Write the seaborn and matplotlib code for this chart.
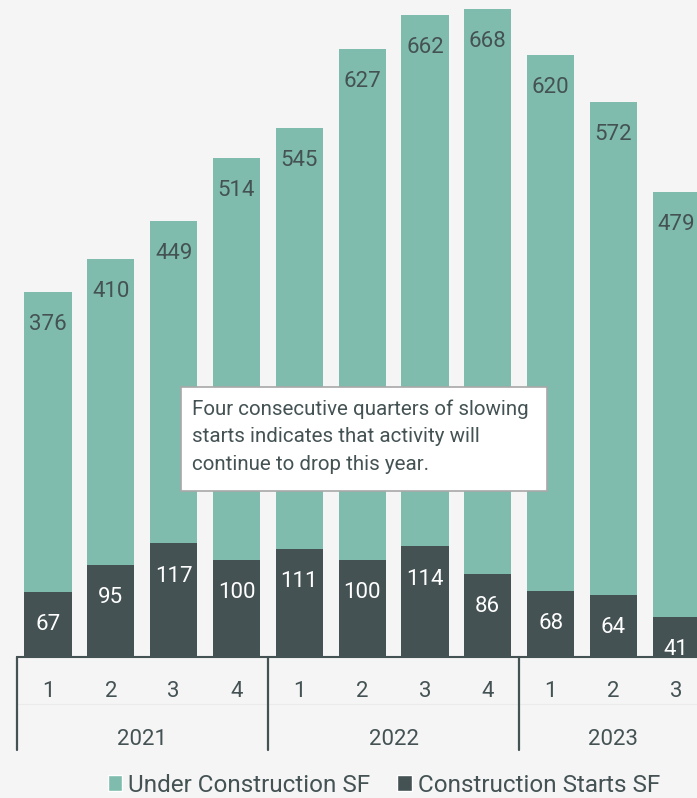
import numpy as np
import pandas as pd
import matplotlib
matplotlib.use("Agg")
import matplotlib.pyplot as plt
from matplotlib.patches import Rectangle, Patch
import seaborn as sns

# data
quarters = ['1', '2', '3', '4', '1', '2', '3', '4', '1', '2', '3']
years = ['2021', '2022', '2023']
year_centers = [1.5, 5.5, 9.0]
under_construction = [376, 410, 449, 514, 545, 627, 662, 668, 620, 572, 479]
starts = [67, 95, 117, 100, 111, 100, 114, 86, 68, 64, 41]
note = ("Four consecutive quarters of slowing\n"
        "starts indicates that activity will\n"
        "continue to drop this year.")

teal = '#80bcad'
dark = '#445254'
bg = '#f5f5f5'

sns.set_theme(style='white')
plt.rcParams['font.family'] = ['Roboto', 'DejaVu Sans']

df = pd.DataFrame({
    'period': [f'{i}' for i in range(len(quarters))],
    'under': under_construction,
    'starts': starts,
})

fig = plt.figure(figsize=(6.97, 7.98), dpi=100, facecolor=bg)
ax = fig.add_axes([0.0238, 0.1767, 0.9762, 0.8233])
ax.set_facecolor(bg)

sns.barplot(data=df, x='period', y='under', color=teal, saturation=1,
            width=0.75, linewidth=0, ax=ax)
sns.barplot(data=df, x='period', y='starts', color=dark, saturation=1,
            width=0.75, linewidth=0, ax=ax)

ax.set_xlim(-0.5, 10.33)
ax.set_ylim(0, 677)

for i, (u, s) in enumerate(zip(under_construction, starts)):
    ax.annotate(str(u), (i, u), xytext=(0, -23.5), textcoords='offset points',
                ha='center', va='center', fontsize=16, color=dark)
    ax.annotate(str(s), (i, s), xytext=(0, -23.5), textcoords='offset points',
                ha='center', va='center', fontsize=16, color='white')

for s in ax.spines.values():
    s.set_visible(False)
ax.set_yticks([])
ax.set_xticks([])
ax.set_xlabel('')
ax.set_ylabel('')

# baseline
ax.plot([-0.5, 10.33], [0, 0], color=dark, lw=1.5, clip_on=False)

# quarter and year labels below axis
trans = ax.get_xaxis_transform()
for i, q in enumerate(quarters):
    ax.annotate(q, (i, 0), xycoords=trans, xytext=(0, -25),
                textcoords='offset points', ha='center', va='center',
                fontsize=16, color=dark, annotation_clip=False)
for yc, yr in zip(year_centers, years):
    ax.annotate(yr, (yc, 0), xycoords=trans, xytext=(0, -59.5),
                textcoords='offset points', ha='center', va='center',
                fontsize=16, color=dark, annotation_clip=False)
# faint row divider
ax.plot([-0.5, 10.33], [-0.0715, -0.0715], transform=trans, color='#ebebeb',
        lw=0.8, clip_on=False)
# year separators
for xs in [-0.5, 3.5, 7.5]:
    ax.plot([xs, xs], [0, -0.1415], transform=trans, color=dark, lw=1.6,
            clip_on=False)

# annotation box
box = Rectangle((0.2416, 0.2527), 0.5379, 0.1583, transform=ax.transAxes,
                facecolor='white', edgecolor='#a8a8a8', lw=1.2, zorder=5)
ax.add_patch(box)
ax.text(0.2575, 0.3925, note, transform=ax.transAxes, ha='left', va='top',
        fontsize=14.8, color=dark, linespacing=1.58, zorder=6)

handles = [Patch(facecolor=teal, label='Under Construction SF'),
           Patch(facecolor=dark, label='Construction Starts SF')]
fig.legend(handles=handles, loc='center', bbox_to_anchor=(0.551, 0.016),
           ncol=2, frameon=False, fontsize=17.5, handlelength=0.6,
           handleheight=0.6, handletextpad=0.25, columnspacing=1.1,
           labelcolor=dark)

fig.savefig('out.png', dpi=100, facecolor=bg)
